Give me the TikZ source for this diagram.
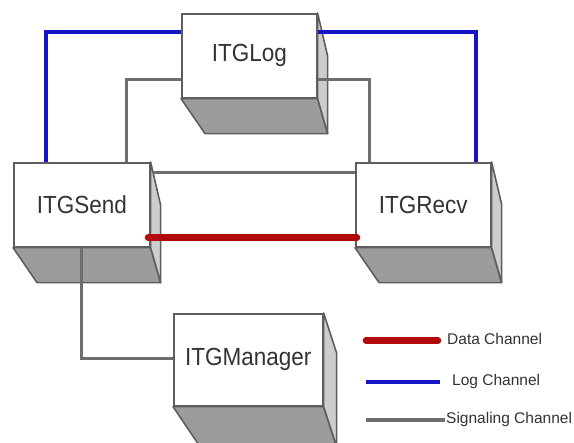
\documentclass[tikz,border=0pt]{standalone}
\usepackage{fontspec}
\setmainfont{Liberation Sans}
\usetikzlibrary{calc}
\definecolor{edgegray}{HTML}{5E5E5E}
\definecolor{bottomgray}{HTML}{9C9C9C}
\definecolor{sidegray}{HTML}{CDCDCD}
\definecolor{siggray}{HTML}{6E6E6E}
\definecolor{logblue}{HTML}{1414C8}
\definecolor{datared}{HTML}{B00A0A}
\definecolor{txt}{HTML}{333333}
\newcommand\cubefaces[2]{%
  \filldraw[bottomface] (#1.south west) -- (#1.south east) -- ++(10,35) -- ($(#1.south west)+(24,35)$) -- cycle;
  \filldraw[sideface] (#1.north east) -- ++(10,#2) -- ($(#1.south east)+(10,35)$) -- (#1.south east) -- cycle;
}
\newcommand\boxlabel[1]{\scalebox{1}[1.1]{#1}}
\begin{document}
\begin{tikzpicture}[x=1pt,y=-1pt,
  frontface/.style={draw=edgegray, line width=1.6pt, fill=white, inner sep=0pt, anchor=north west,
    text=txt, font=\fontsize{22.5}{24}\selectfont},
  bottomface/.style={draw=edgegray, line width=1.6pt, fill=bottomgray, line join=round},
  sideface/.style={draw=edgegray, line width=1.6pt, fill=sidegray, line join=round},
  logline/.style={draw=logblue, line width=3.2pt},
  sigline/.style={draw=siggray, line width=3pt},
  dataline/.style={draw=datared, line width=6.5pt, line cap=round},
  legtext/.style={anchor=west, inner sep=0pt, text=txt, font=\fontsize{15.5}{17}\selectfont}]
\useasboundingbox (0,0) rectangle (574,443);
\clip (0,0) rectangle (574,443);
\fill[white] (0,0) rectangle (574,443);

% boxes
\node[frontface, minimum width=135pt, minimum height=84pt] (log) at (181,13) {\boxlabel{ITGLog}};
\cubefaces{log}{43}
\node[frontface, minimum width=136pt, minimum height=84pt] (send) at (13,162) {\boxlabel{ITGSend}};
\cubefaces{send}{43}
\node[frontface, minimum width=135pt, minimum height=84pt] (recv) at (355,162) {\boxlabel{ITGRecv}};
\cubefaces{recv}{42}
\node[frontface, minimum width=149pt, minimum height=92pt] (mgr) at (173,313) {\boxlabel{ITGManager}};
\filldraw[bottomface] (mgr.south west) -- (mgr.south east) -- ++(13,40) -- ($(mgr.south west)+(27,40)$) -- cycle;
\filldraw[sideface] (mgr.north east) -- ++(13,40) -- ($(mgr.south east)+(13,40)$) -- (mgr.south east) -- cycle;

% log channel
\draw[logline] ($(send.north west)+(33,0)$) |- ($(log.north west)+(0,19)$);
\draw[logline] ($(log.north east)+(0,19)$) -| ($(recv.north west)+(121,0)$);
% signaling channel
\draw[sigline] ($(send.north west)+(113.5,0)$) |- ($(log.north west)+(0,67)$);
\draw[sigline] ($(log.north east)+(0,67)$) -| ($(recv.north west)+(14,0)$);
\draw[sigline] ($(send.north east)+(2,10.5)$) -- ($(recv.north west)+(0,10.5)$);
\draw[sigline] ($(send.south west)+(68,0)$) |- ($(mgr.north west)+(0,46)$);
% data channel
\draw[dataline] ($(send.north east)+(-2.5,75.5)$) -- ($(recv.north west)+(2,75.5)$);

% legend
\coordinate (l1a) at (366,340.5); \coordinate (l1b) at (438,340.5);
\coordinate (l2a) at (366,382); \coordinate (l2b) at (440,382);
\coordinate (l3a) at (366,420); \coordinate (l3b) at (445,420);
\draw[dataline] (l1a) -- (l1b);
\draw[logline] (l2a) -- (l2b);
\draw[sigline, line width=3.4pt] (l3a) -- (l3b);
\node[legtext] (t1) at (447,339) {Data Channel};
\node[legtext] (t2) at (452,381) {Log Channel};
\node[legtext] (t3) at (446,419) {Signaling Channel};
\end{tikzpicture}
\end{document}
